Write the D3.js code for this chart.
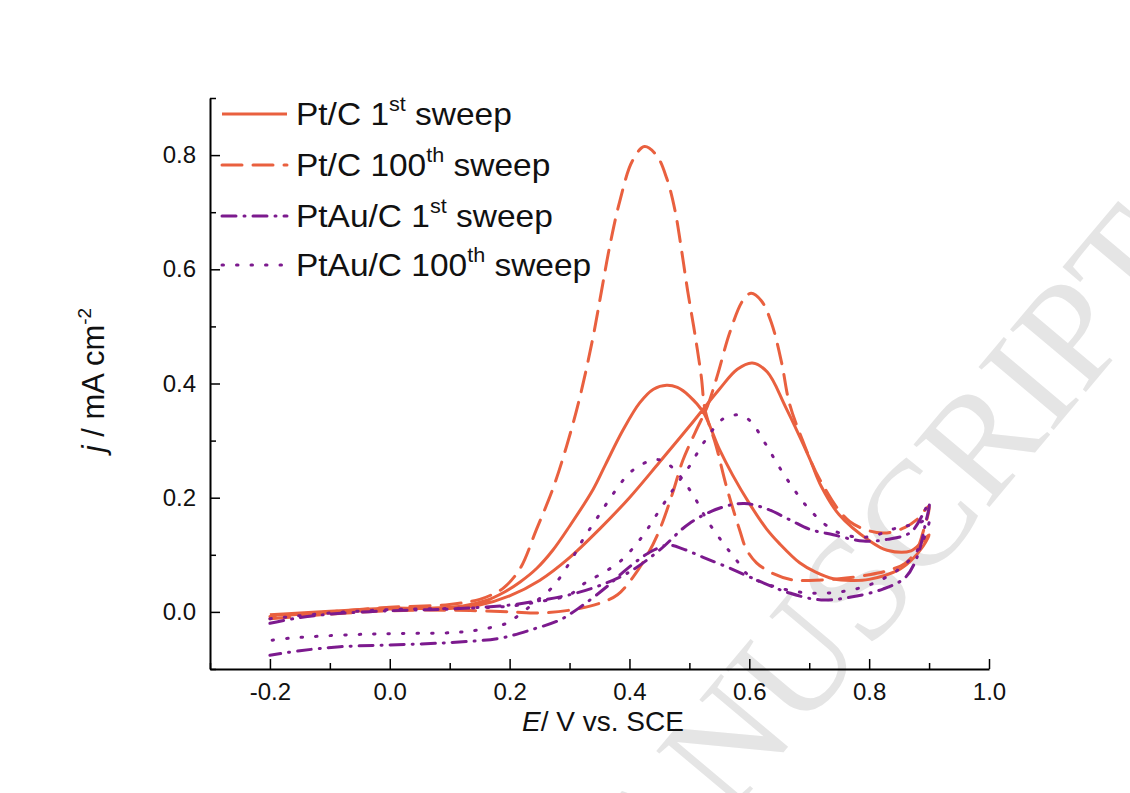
<!DOCTYPE html>
<html>
<head>
<meta charset="utf-8">
<script src="https://cdn.jsdelivr.net/npm/d3@7"></script>
<style>
  body { margin: 0; background: #fff; }
  text { font-family: "Liberation Sans", Arial, sans-serif; }
</style>
</head>
<body>
<svg id="chart" width="1130" height="793"></svg>
<script>
// ---- data: [E (V vs SCE), j (mA cm-2)] ----

// Pt/C 1st sweep (solid)
const ptc1Fwd = [[-0.2,-0.005],[-0.15,-0.002],[-0.1,0.001],[-0.05,0.004],[0.0,0.007],[0.05,0.006],[0.1,0.006],[0.15,0.012],[0.2,0.028],[0.25,0.055],[0.3,0.095],[0.35,0.145],[0.4,0.2],[0.45,0.262],[0.5,0.325],[0.55,0.39],[0.58,0.425],[0.605,0.436],[0.63,0.42],[0.66,0.36],[0.7,0.27],[0.72,0.22],[0.75,0.17],[0.8,0.125],[0.83,0.108],[0.87,0.107],[0.9,0.135]];
const ptc1Back = [[0.89,0.115],[0.87,0.09],[0.85,0.074],[0.8,0.057],[0.77,0.055],[0.74,0.058],[0.71,0.07],[0.684,0.086],[0.65,0.12],[0.629,0.145],[0.6,0.19],[0.572,0.24],[0.55,0.285],[0.523,0.35],[0.5,0.378],[0.48,0.393],[0.462,0.397],[0.44,0.39],[0.417,0.366],[0.389,0.318],[0.36,0.258],[0.339,0.214],[0.3,0.15],[0.272,0.108],[0.245,0.076],[0.217,0.052],[0.19,0.034],[0.161,0.02],[0.12,0.01],[0.05,0.006],[0.0,0.005],[-0.1,-0.002],[-0.2,-0.006]];

// Pt/C 100th sweep (dashed)
const ptc100Fwd = [[-0.2,-0.012],[-0.1,-0.004],[0.0,0.002],[0.1,0.003],[0.2,0.0],[0.25,-0.002],[0.3,0.003],[0.35,0.015],[0.38,0.03],[0.406,0.061],[0.43,0.1],[0.45,0.143],[0.472,0.208],[0.489,0.265],[0.51,0.315],[0.53,0.36],[0.547,0.415],[0.567,0.488],[0.589,0.545],[0.603,0.558],[0.62,0.545],[0.637,0.506],[0.654,0.436],[0.667,0.365],[0.689,0.3],[0.718,0.231],[0.768,0.158],[0.823,0.138],[0.86,0.148],[0.879,0.161],[0.9,0.185]];
const ptc100Back = [[0.89,0.14],[0.88,0.11],[0.86,0.085],[0.83,0.072],[0.8,0.065],[0.75,0.058],[0.7,0.055],[0.672,0.056],[0.64,0.067],[0.612,0.086],[0.595,0.11],[0.584,0.143],[0.562,0.219],[0.545,0.289],[0.526,0.355],[0.52,0.411],[0.509,0.488],[0.497,0.563],[0.487,0.633],[0.476,0.703],[0.462,0.76],[0.445,0.8],[0.425,0.815],[0.405,0.79],[0.384,0.72],[0.367,0.64],[0.353,0.56],[0.339,0.48],[0.317,0.375],[0.295,0.29],[0.272,0.215],[0.245,0.145],[0.217,0.075],[0.19,0.042],[0.17,0.03],[0.15,0.022],[0.1,0.013],[0.0,0.008],[-0.1,0.0],[-0.2,-0.008]];

// PtAu/C 1st sweep (dash-dot)
const ptau1Fwd = [[-0.2,-0.02],[-0.15,-0.01],[-0.1,-0.004],[0.0,0.002],[0.1,0.005],[0.2,0.012],[0.25,0.02],[0.3,0.03],[0.35,0.046],[0.4,0.07],[0.45,0.108],[0.5,0.155],[0.551,0.182],[0.592,0.19],[0.63,0.18],[0.67,0.16],[0.7,0.145],[0.74,0.135],[0.79,0.124],[0.83,0.127],[0.87,0.14],[0.9,0.19]];
const ptau1Back = [[0.893,0.15],[0.88,0.096],[0.86,0.06],[0.823,0.04],[0.77,0.026],[0.72,0.021],[0.667,0.033],[0.612,0.056],[0.562,0.079],[0.522,0.096],[0.49,0.11],[0.464,0.117],[0.44,0.108],[0.42,0.095],[0.39,0.07],[0.362,0.044],[0.32,0.01],[0.284,-0.014],[0.24,-0.03],[0.184,-0.046],[0.095,-0.054],[-0.005,-0.058],[-0.083,-0.061],[-0.15,-0.068],[-0.2,-0.076]];

// PtAu/C 100th sweep (dotted)
const ptau100Fwd = [[-0.2,-0.012],[-0.1,-0.002],[0.0,0.004],[0.1,0.006],[0.2,0.01],[0.25,0.018],[0.3,0.03],[0.325,0.05],[0.35,0.065],[0.384,0.088],[0.42,0.13],[0.447,0.173],[0.472,0.213],[0.5,0.255],[0.525,0.298],[0.556,0.338],[0.58,0.345],[0.6,0.336],[0.626,0.296],[0.651,0.252],[0.679,0.208],[0.706,0.173],[0.746,0.14],[0.796,0.131],[0.846,0.147],[0.884,0.156],[0.9,0.165]];
const ptau100Back = [[0.89,0.125],[0.875,0.1],[0.85,0.075],[0.8,0.047],[0.75,0.035],[0.7,0.033],[0.65,0.042],[0.6,0.063],[0.579,0.09],[0.556,0.121],[0.53,0.16],[0.506,0.205],[0.476,0.248],[0.455,0.265],[0.439,0.266],[0.415,0.255],[0.397,0.24],[0.375,0.21],[0.347,0.166],[0.322,0.126],[0.3,0.086],[0.272,0.044],[0.24,0.015],[0.21,-0.01],[0.195,-0.02],[0.15,-0.031],[0.11,-0.036],[0.017,-0.038],[-0.067,-0.04],[-0.167,-0.046],[-0.2,-0.05]];

// legend labels: [main, superscript, rest]
const legendLabels = [
  ["Pt/C 1", "st", " sweep"],
  ["Pt/C 100", "th", " sweep"],
  ["PtAu/C 1", "st", " sweep"],
  ["PtAu/C 100", "th", " sweep"]
];

// tick values
const xTicks = [-0.2, 0.0, 0.2, 0.4, 0.6, 0.8, 1.0];
const xMinor = [-0.3, -0.1, 0.1, 0.3, 0.5, 0.7, 0.9];
const yTicks = [0.0, 0.2, 0.4, 0.6, 0.8];
const yMinor = [-0.1, 0.1, 0.3, 0.5, 0.7, 0.9];

// ---- drawing ----
const svg = d3.select("#chart");
const orange = "#e9603f", purple = "#7c1a8e";

const x = d3.scaleLinear().domain([-0.3, 1.0]).range([210, 989]);
const y = d3.scaleLinear().domain([-0.1, 0.9]).range([669, 98]);

// faint "accepted manuscript" watermark behind everything
svg.append("text")
  .attr("transform", "translate(1195,262) rotate(-50)")
  .attr("text-anchor", "end")
  .style("font-family", "'Liberation Serif', 'Times New Roman', serif")
  .style("font-size", "150px")
  .attr("fill", "#e5e5e5")
  .text("ACCEPTED MANUSCRIPT");

const series = [
  { pts: ptc1Fwd.concat(ptc1Back), color: orange, dash: null },
  { pts: ptc100Fwd.concat(ptc100Back), color: orange, dash: "20,11" },
  { pts: ptau1Fwd.concat(ptau1Back), color: purple, dash: "14,8,1,8" },
  { pts: ptau100Fwd.concat(ptau100Back), color: purple, dash: "1.5,13" }
];

const line = d3.line()
  .x(d => x(d[0]))
  .y(d => y(d[1]))
  .curve(d3.curveCatmullRom.alpha(0.5));

svg.append("g").selectAll("path")
  .data(series)
  .join("path")
  .attr("d", d => line(d.pts))
  .attr("fill", "none")
  .attr("stroke", d => d.color)
  .attr("stroke-width", 3)
  .attr("stroke-linecap", d => d.dash ? "round" : "butt")
  .attr("stroke-linejoin", "round")
  .attr("stroke-dasharray", d => d.dash);

// axes (ticks point inward)
const fmt = d => d.toFixed(1);

svg.append("g")
  .attr("transform", `translate(0,${y(-0.1)})`)
  .call(d3.axisBottom(x).tickValues(xTicks).tickFormat(fmt).tickSize(-10).tickSizeOuter(0).tickPadding(14));
svg.append("g")
  .attr("transform", `translate(0,${y(-0.1)})`)
  .call(d3.axisBottom(x).tickValues(xMinor).tickFormat("").tickSize(-6).tickSizeOuter(0))
  .select(".domain").remove();

svg.append("g")
  .attr("transform", `translate(${x(-0.3)},0)`)
  .call(d3.axisLeft(y).tickValues(yTicks).tickFormat(fmt).tickSize(-10).tickSizeOuter(0).tickPadding(14));
svg.append("g")
  .attr("transform", `translate(${x(-0.3)},0)`)
  .call(d3.axisLeft(y).tickValues(yMinor).tickFormat("").tickSize(-6).tickSizeOuter(0))
  .select(".domain").remove();

svg.selectAll(".domain").attr("stroke", "#000").attr("stroke-width", 2);
svg.selectAll(".tick line").attr("stroke", "#000").attr("stroke-width", 1.5);
svg.selectAll(".tick text")
  .attr("fill", "#111")
  .style("font-family", "'Liberation Sans', Arial, sans-serif")
  .style("font-size", "24px");

// axis titles
const xt = svg.append("text")
  .attr("x", 603).attr("y", 731)
  .attr("text-anchor", "middle")
  .style("font-size", "28px")
  .attr("fill", "#111");
xt.append("tspan").style("font-style", "italic").text("E");
xt.append("tspan").text("/ V vs. SCE");

const yt = svg.append("text")
  .attr("transform", "translate(104,380) rotate(-90)")
  .attr("text-anchor", "middle")
  .style("font-size", "31px")
  .attr("fill", "#111");
yt.append("tspan").style("font-style", "italic").text("j");
yt.append("tspan").text(" / mA cm");
yt.append("tspan").attr("dy", -13).style("font-size", "19px").text("-2");

// legend
const legend = svg.append("g");
const rowY = [114, 165, 216, 265];
series.forEach((s, i) => {
  legend.append("line")
    .attr("x1", 222).attr("x2", 287)
    .attr("y1", rowY[i]).attr("y2", rowY[i])
    .attr("stroke", s.color)
    .attr("stroke-width", 3)
    .attr("stroke-linecap", s.dash ? "round" : "butt")
    .attr("stroke-dasharray", s.dash);
  const t = legend.append("text")
    .attr("transform", `translate(296,${rowY[i] + 11}) scale(1.08,1)`)
    .style("font-size", "31px")
    .attr("fill", "#111");
  t.append("tspan").text(legendLabels[i][0]);
  t.append("tspan").attr("dy", -14).style("font-size", "20px").text(legendLabels[i][1]);
  t.append("tspan").attr("dy", 14).text(legendLabels[i][2]);
});
</script>
</body>
</html>
